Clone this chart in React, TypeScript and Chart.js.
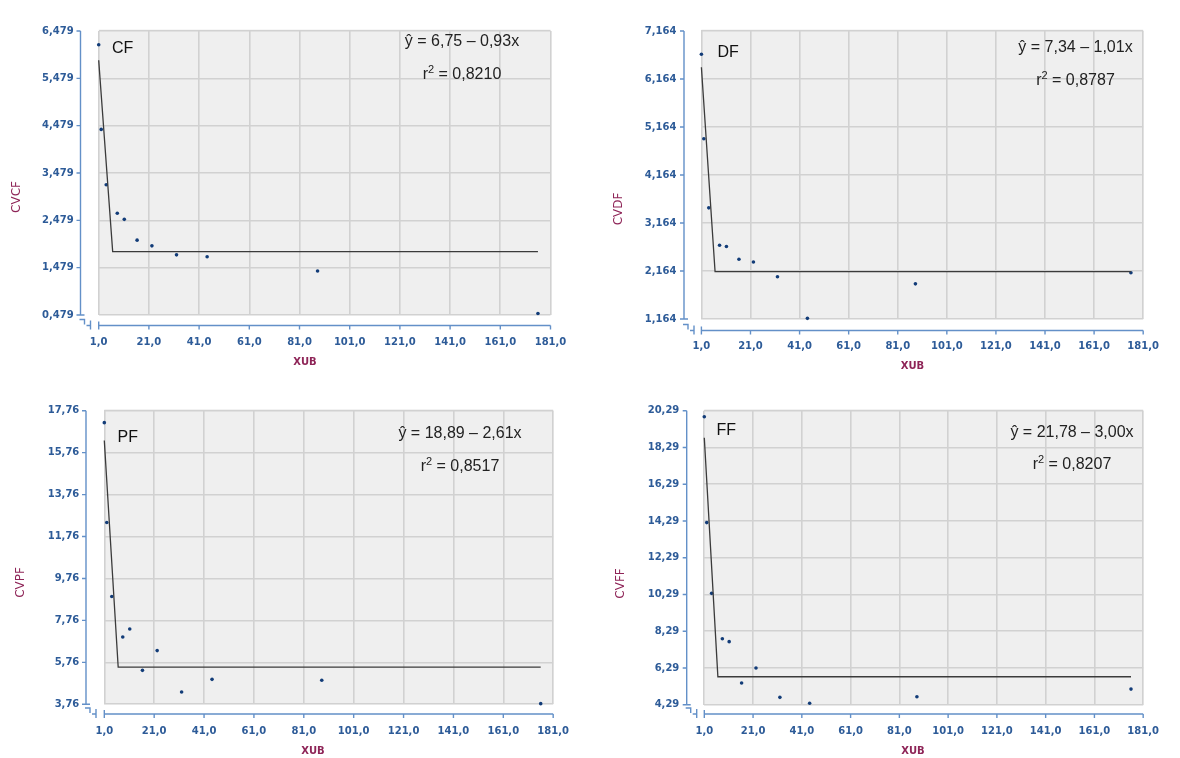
import { useEffect, useRef } from "react";
import { Chart, registerables } from "chart.js";

Chart.register(...registerables);

// Shared x positions (XUB) and x-axis ticks
const xubValues = [1, 2, 4, 8.4, 11.2, 16.3, 22.2, 32, 44.2, 88.2, 176];
const xTicks = [1, 21, 41, 61, 81, 101, 121, 141, 161, 181];

// Observed coefficients of variation per trait
const cvcf = [6.19, 4.4, 3.23, 2.63, 2.5, 2.06, 1.94, 1.75, 1.71, 1.41, 0.51];
const cvdf = [6.68, 4.92, 3.48, 2.7, 2.675, 2.41, 2.35, 2.045, 1.178, 1.896, 2.126];
const cvpf = [17.19, 12.43, 8.9, 6.97, 7.35, 5.38, 6.32, 4.35, 4.95, 4.91, 3.79];
const cvff = [19.96, 14.2, 10.35, 7.88, 7.72, 5.47, 6.29, 4.69, 4.37, 4.72, 5.14];

// Linear-plateau fit vertices
const fitX = [1, 6.57, 176];
const fitCF = [5.86, 1.82, 1.82];
const fitDF = [6.41, 2.15, 2.15];
const fitPF = [16.34, 5.53, 5.53];
const fitFF = [18.82, 5.81, 5.81];

// Regression summaries
const intercepts = [6.75, 7.34, 18.89, 21.78];
const slopes = [0.93, 1.01, 2.61, 3.0];
const rSquared = [0.821, 0.8787, 0.8517, 0.8207];

// y-axis ticks
const ticksCF = [0.479, 1.479, 2.479, 3.479, 4.479, 5.479, 6.479];
const ticksDF = [1.164, 2.164, 3.164, 4.164, 5.164, 6.164, 7.164];
const ticksPF = [3.76, 5.76, 7.76, 9.76, 11.76, 13.76, 15.76, 17.76];
const ticksFF = [4.29, 6.29, 8.29, 10.29, 12.29, 14.29, 16.29, 18.29, 20.29];

const fmt = (v: number, d: number) => v.toFixed(d).replace(".", ",");

const AXIS = "#6390c8";
const TICK_TEXT = "#2d5b98";
const TITLE = "#8e2457";
const GRID = "#d1d1d1";
const PLOT_BG = "#efefef";

type Panel = {
  label: string;
  yTitle: string;
  values: number[];
  fit: number[];
  yTicks: number[];
  decimals: number;
  idx: number;
  ox: number;
  oy: number;
  w: number;
  h: number;
  l: number;
  r: number;
  t: number;
  b: number;
  axisX: number;
  axisY: number;
  labelAt: [number, number];
  eqAt: [number, number, number];
  yTitleAt: [number, number];
  xTitleAt: [number, number];
};

const panels: Panel[] = [
  {
    label: "CF", yTitle: "CVCF", values: cvcf, fit: fitCF, yTicks: ticksCF, decimals: 3, idx: 0,
    ox: 0, oy: 0, w: 590, h: 379,
    l: 98.7, r: 550.5, t: 21.7, b: 315,
    axisX: 80.5, axisY: 325.5,
    labelAt: [112, 53], eqAt: [462, 46, 78.5],
    yTitleAt: [16.5, 197], xTitleAt: [305, 362],
  },
  {
    label: "DF", yTitle: "CVDF", values: cvdf, fit: fitDF, yTicks: ticksDF, decimals: 3, idx: 1,
    ox: 590, oy: 0, w: 590, h: 379,
    l: 701.4, r: 1157.7, t: 24, b: 319,
    axisX: 684, axisY: 330.5,
    labelAt: [717.5, 57], eqAt: [1075.5, 52, 85],
    yTitleAt: [619, 209], xTitleAt: [912.5, 366.5],
  },
  {
    label: "PF", yTitle: "CVPF", values: cvpf, fit: fitPF, yTicks: ticksPF, decimals: 2, idx: 2,
    ox: 0, oy: 379, w: 590, h: 379,
    l: 104.3, r: 559, t: 410.7, b: 704.3,
    axisX: 86, axisY: 714,
    labelAt: [117.5, 442], eqAt: [460, 437.5, 470.5],
    yTitleAt: [20.8, 582.5], xTitleAt: [313, 751],
  },
  {
    label: "FF", yTitle: "CVFF", values: cvff, fit: fitFF, yTicks: ticksFF, decimals: 2, idx: 3,
    ox: 590, oy: 379, w: 590, h: 379,
    l: 704.3, r: 1156.7, t: 410.7, b: 704.7,
    axisX: 686.7, axisY: 714,
    labelAt: [716.5, 435], eqAt: [1072, 437, 468.5],
    yTitleAt: [621, 583.5], xTitleAt: [913, 751],
  },
];

function PanelChart({ p }: { p: Panel }) {
  const ref = useRef<HTMLCanvasElement | null>(null);

  useEffect(() => {
    const canvas = ref.current;
    if (!canvas) return;

    const decor = {
      id: "panelDecor",
      beforeDraw(chart: any) {
        const { ctx, chartArea: a } = chart;
        ctx.save();
        ctx.fillStyle = PLOT_BG;
        ctx.fillRect(a.left, a.top - 1.5, a.right - a.left, a.bottom - a.top + 1.5);
        ctx.restore();
      },
      afterDraw(chart: any) {
        const { ctx } = chart;
        const xs = chart.scales.x;
        const ys = chart.scales.y;
        const ax = p.axisX - p.ox;
        const ay = p.axisY - p.oy;
        ctx.save();
        ctx.strokeStyle = AXIS;
        ctx.lineWidth = 1.4;
        ctx.beginPath();
        // y axis line and tick marks
        const yTop = ys.getPixelForValue(p.yTicks[p.yTicks.length - 1]);
        const yBot = ys.getPixelForValue(p.yTicks[0]);
        ctx.moveTo(ax, yTop);
        ctx.lineTo(ax, yBot);
        p.yTicks.forEach((v) => {
          const y = ys.getPixelForValue(v);
          ctx.moveTo(ax - 4, y);
          ctx.lineTo(ax, y);
        });
        ctx.moveTo(ax - 4, yBot);
        ctx.lineTo(ax + 4, yBot);
        // x axis line and tick marks
        const xL = xs.getPixelForValue(xTicks[0]);
        const xR = xs.getPixelForValue(xTicks[xTicks.length - 1]);
        ctx.moveTo(xL, ay);
        ctx.lineTo(xR, ay);
        xTicks.forEach((v) => {
          const x = xs.getPixelForValue(v);
          ctx.moveTo(x, ay);
          ctx.lineTo(x, ay + 4);
        });
        ctx.moveTo(xL, ay - 4);
        ctx.lineTo(xL, ay + 4);
        // axis break marks
        ctx.moveTo(ax - 1, ay - 6);
        ctx.lineTo(ax + 4, ay - 6);
        ctx.lineTo(ax + 4, ay - 1);
        ctx.moveTo(ax + 10, ay - 5);
        ctx.lineTo(ax + 10, ay + 4);
        ctx.moveTo(ax + 6, ay);
        ctx.lineTo(ax + 10, ay);
        ctx.stroke();

        // axis titles
        ctx.fillStyle = TITLE;
        ctx.textAlign = "center";
        ctx.textBaseline = "middle";
        ctx.font = "12px 'DejaVu Sans'";
        ctx.save();
        ctx.translate(p.yTitleAt[0] - p.ox, p.yTitleAt[1] - p.oy);
        ctx.rotate(-Math.PI / 2);
        ctx.fillText(p.yTitle, 0, 0);
        ctx.restore();
        ctx.font = "bold 10px 'DejaVu Sans'";
        ctx.fillText("XUB", p.xTitleAt[0] - p.ox, p.xTitleAt[1] - p.oy);

        // panel label
        ctx.fillStyle = "#111";
        ctx.textAlign = "left";
        ctx.textBaseline = "alphabetic";
        ctx.font = "16px 'Liberation Sans'";
        ctx.fillText(p.label, p.labelAt[0] - p.ox, p.labelAt[1] - p.oy);

        // regression equation and r²
        const cx = p.eqAt[0] - p.ox;
        ctx.fillStyle = "#222";
        ctx.textAlign = "center";
        const eq = `ŷ = ${fmt(intercepts[p.idx], 2)} – ${fmt(slopes[p.idx], 2)}x`;
        ctx.fillText(eq, cx, p.eqAt[1] - p.oy);
        const rest = ` = ${fmt(rSquared[p.idx], 4)}`;
        ctx.font = "16px 'Liberation Sans'";
        const wr = ctx.measureText("r").width;
        const wRest = ctx.measureText(rest).width;
        ctx.font = "11px 'Liberation Sans'";
        const w2 = ctx.measureText("2").width;
        const total = wr + w2 + wRest;
        const x0 = cx - total / 2;
        const by = p.eqAt[2] - p.oy;
        ctx.textAlign = "left";
        ctx.font = "16px 'Liberation Sans'";
        ctx.fillText("r", x0, by);
        ctx.font = "11px 'Liberation Sans'";
        ctx.fillText("2", x0 + wr, by - 6);
        ctx.font = "16px 'Liberation Sans'";
        ctx.fillText(rest, x0 + wr + w2, by);
        ctx.restore();
      },
    };

    const chart = new Chart(canvas, {
      type: "scatter",
      data: {
        datasets: [
          {
            data: fitX.map((x, i) => ({ x, y: p.fit[i] })),
            showLine: true,
            borderColor: "#3b3b3b",
            borderWidth: 1.3,
            pointRadius: 0,
            clip: false,
          } as any,
          {
            data: xubValues.map((x, i) => ({ x, y: p.values[i] })),
            backgroundColor: "#123c78",
            borderColor: "#123c78",
            borderWidth: 0,
            pointRadius: 1.8,
            clip: false,
          } as any,
        ],
      },
      options: {
        animation: false,
        responsive: false,
        devicePixelRatio: 1,
        events: [],
        layout: {
          padding: { left: 0, right: p.w - (p.r - p.ox), top: p.t - p.oy, bottom: 0 },
        },
        plugins: { legend: { display: false }, tooltip: { enabled: false } },
        scales: {
          x: {
            type: "linear",
            min: xTicks[0],
            max: xTicks[xTicks.length - 1],
            afterBuildTicks: (s: any) => {
              s.ticks = xTicks.map((value) => ({ value }));
            },
            afterFit: (s: any) => {
              s.height = p.h - (p.b - p.oy);
            },
            border: { display: false },
            grid: { color: GRID, lineWidth: 1.6, drawTicks: false },
            ticks: {
              padding: 21,
              autoSkip: false,
              maxRotation: 0,
              color: TICK_TEXT,
              font: { family: "'DejaVu Sans'", size: 10, weight: "bold" },
              callback: (v: any) => fmt(Number(v), 1),
            },
          },
          y: {
            type: "linear",
            min: p.yTicks[0],
            max: p.yTicks[p.yTicks.length - 1],
            afterBuildTicks: (s: any) => {
              s.ticks = p.yTicks.map((value) => ({ value }));
            },
            afterFit: (s: any) => {
              s.width = p.l - p.ox;
            },
            border: { display: false },
            grid: { color: GRID, lineWidth: 1.6, drawTicks: false },
            ticks: {
              padding: 25,
              autoSkip: false,
              color: TICK_TEXT,
              font: { family: "'DejaVu Sans'", size: 10, weight: "bold" },
              callback: (v: any) => fmt(Number(v), p.decimals),
            },
          },
        },
      } as any,
      plugins: [decor],
    });

    return () => chart.destroy();
  }, [p]);

  return (
    <canvas
      ref={ref}
      width={p.w}
      height={p.h}
      style={{ position: "absolute", left: p.ox, top: p.oy, width: p.w, height: p.h }}
    />
  );
}

export default function App() {
  return (
    <div
      style={{
        position: "fixed",
        left: 0,
        top: 0,
        width: 1180,
        height: 758,
        background: "#ffffff",
        overflow: "hidden",
      }}
    >
      {panels.map((p) => (
        <PanelChart key={p.label} p={p} />
      ))}
    </div>
  );
}
